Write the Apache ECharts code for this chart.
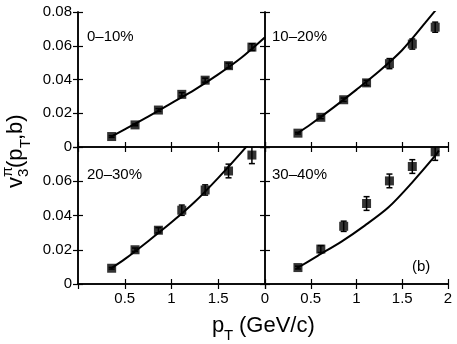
<!DOCTYPE html>
<html>
<head>
<meta charset="utf-8">
<script src="https://cdn.jsdelivr.net/npm/echarts@6/dist/echarts.min.js"></script>
<style>
  html, body { margin: 0; padding: 0; background: #fff; }
  #chart { width: 457px; height: 344px; }
</style>
</head>
<body>
<div id="chart"></div>
<script>
// measured points (same pT bins in every panel)
const pT = [0.36, 0.61, 0.86, 1.11, 1.36, 1.61, 1.86];
const v3_0_10 = [0.0062, 0.0131, 0.0219, 0.0312, 0.0396, 0.0482, 0.0592];
const err_0_10 = [0.0005, 0.0005, 0.0008, 0.001, 0.0012, 0.0015, 0.002];
const v3_10_20 = [0.0082, 0.0176, 0.028, 0.038, 0.0494, 0.061, 0.071];
const err_10_20 = [0.0005, 0.0008, 0.001, 0.0015, 0.003, 0.003, 0.003];
const v3_20_30 = [0.0092, 0.020, 0.0314, 0.0431, 0.0549, 0.066, 0.0753];
const err_20_30 = [0.0005, 0.001, 0.0015, 0.003, 0.003, 0.004, 0.005];
const v3_30_40 = [0.0096, 0.0204, 0.0337, 0.047, 0.0602, 0.0686, 0.0772];
const err_30_40 = [0.0008, 0.002, 0.003, 0.004, 0.004, 0.004, 0.005];

// model curves
const pTcalc = [0.35, 0.5, 0.75, 1.0, 1.25, 1.5, 1.75, 2.0];
const calc_0_10 = [0.006, 0.0105, 0.018, 0.026, 0.034, 0.043, 0.053, 0.065];
const calc_10_20 = [0.008, 0.0135, 0.0235, 0.034, 0.045, 0.0575, 0.0735, 0.09];
const calc_20_30 = [0.009, 0.0145, 0.025, 0.036, 0.048, 0.062, 0.077, 0.093];
const pTcalc4 = [0.34, 0.58, 0.84, 1.09, 1.35, 1.6, 1.86, 1.9];
const calc_30_40 = [0.0089, 0.0166, 0.0249, 0.0341, 0.0448, 0.0588, 0.0749, 0.078];

const centLabels = ['0\u201310%', '10\u201320%', '20\u201330%', '30\u201340%'];
const xTicks = { min: 0, max: 2, interval: 0.5 };
const yTicks = { min: 0, max: 0.08, interval: 0.02 };

const panels = [
  { v: v3_0_10, e: err_0_10, cx: pTcalc, cy: calc_0_10 },
  { v: v3_10_20, e: err_10_20, cx: pTcalc, cy: calc_10_20 },
  { v: v3_20_30, e: err_20_30, cx: pTcalc, cy: calc_20_30 },
  { v: v3_30_40, e: err_30_40, cx: pTcalc4, cy: calc_30_40 }
];

const font = 'Liberation Sans, Arial, sans-serif';
const grids = [
  { left: 78, top: 12, width: 187, height: 135 },
  { left: 265, top: 12, width: 183, height: 135 },
  { left: 78, top: 147, width: 187, height: 137 },
  { left: 265, top: 147, width: 183, height: 137 }
];

let xAxes = [], yAxes = [], series = [];
const lineSty = { show: true, lineStyle: { color: '#000', width: 1.5 } };
const tickSty = { show: true, inside: true, length: 5, lineStyle: { color: '#000', width: 1.2 } };

grids.forEach((g, i) => {
  const bottomRow = i >= 2, leftCol = i % 2 === 0;
  xAxes.push({
    type: 'value', gridIndex: i, position: 'bottom', ...xTicks,
    axisLine: lineSty, axisTick: tickSty, splitLine: { show: false },
    axisLabel: {
      show: bottomRow, margin: 7, color: '#000', fontFamily: font, fontSize: 15,
      showMinLabel: !leftCol, showMaxLabel: !leftCol,
      formatter: v => String(v)
    }
  });
  xAxes.push({
    type: 'value', gridIndex: i, position: 'top', ...xTicks,
    axisLine: lineSty, axisTick: tickSty, splitLine: { show: false }, axisLabel: { show: false }
  });
  yAxes.push({
    type: 'value', gridIndex: i, position: 'left', ...yTicks,
    axisLine: lineSty, axisTick: tickSty, splitLine: { show: false },
    axisLabel: {
      show: leftCol, margin: 6, color: '#000', fontFamily: font, fontSize: 15,
      showMaxLabel: !bottomRow,
      formatter: v => (v === 0 ? '0' : v.toFixed(2))
    }
  });
  yAxes.push({
    type: 'value', gridIndex: i, position: 'right', ...yTicks,
    axisLine: lineSty, axisTick: tickSty, splitLine: { show: false }, axisLabel: { show: false }
  });

  const p = panels[i];
  series.push({
    type: 'line', xAxisIndex: 2 * i, yAxisIndex: 2 * i,
    data: p.cx.map((x, k) => [x, p.cy[k]]),
    smooth: 0.3, showSymbol: false, clip: true,
    lineStyle: { color: '#000', width: 2 }, z: 2
  });
  series.push({
    type: 'custom', xAxisIndex: 2 * i, yAxisIndex: 2 * i, clip: true,
    data: pT.map((x, k) => [x, p.v[k] - p.e[k], p.v[k] + p.e[k]]),
    renderItem: (params, api) => {
      const lo = api.coord([api.value(0), api.value(1)]);
      const hi = api.coord([api.value(0), api.value(2)]);
      const w = 3, st = { stroke: '#000', lineWidth: 1.5 };
      return {
        type: 'group', children: [
          { type: 'line', shape: { x1: lo[0], y1: lo[1], x2: hi[0], y2: hi[1] }, style: st },
          { type: 'line', shape: { x1: lo[0] - w, y1: lo[1], x2: lo[0] + w, y2: lo[1] }, style: st },
          { type: 'line', shape: { x1: hi[0] - w, y1: hi[1], x2: hi[0] + w, y2: hi[1] }, style: st }
        ]
      };
    },
    z: 3
  });
  series.push({
    type: 'scatter', xAxisIndex: 2 * i, yAxisIndex: 2 * i,
    data: pT.map((x, k) => [x, p.v[k]]),
    symbol: 'rect', symbolSize: 9, itemStyle: { color: '#000' }, z: 4
  });
});

const txt = (x, y, text, size) => ({
  type: 'text', x: x, y: y,
  style: { text: text, fontFamily: font, fontSize: size, fill: '#000', align: 'left', verticalAlign: 'middle' }
});

const graphic = [
  txt(87, 37, centLabels[0], 15),
  txt(272, 37, centLabels[1], 15),
  txt(87, 175, centLabels[2], 15),
  txt(272, 175, centLabels[3], 15),
  txt(412, 267, '(b)', 15),
  {
    type: 'group', x: 212, y: 326,
    children: [
      txt(0, 0, 'p', 22),
      txt(12, 10, 'T', 15),
      txt(27, 0, '(GeV/c)', 22)
    ]
  },
  {
    type: 'group', x: 16, y: 149, rotation: Math.PI / 2,
    children: [
      txt(-39, 0, 'v', 22),
      txt(-28, -8, '\u03c0', 15),
      txt(-28, 8, '3', 15),
      txt(-19, 0, '(p', 22),
      txt(1, 10, 'T', 15),
      txt(9, 0, ',b)', 22)
    ]
  }
];

const chart = echarts.init(document.getElementById('chart'));
chart.setOption({
  animation: false,
  backgroundColor: '#fff',
  grid: grids,
  xAxis: xAxes,
  yAxis: yAxes,
  series: series,
  graphic: graphic
});
window.addEventListener('resize', () => chart.resize());
</script>
</body>
</html>
